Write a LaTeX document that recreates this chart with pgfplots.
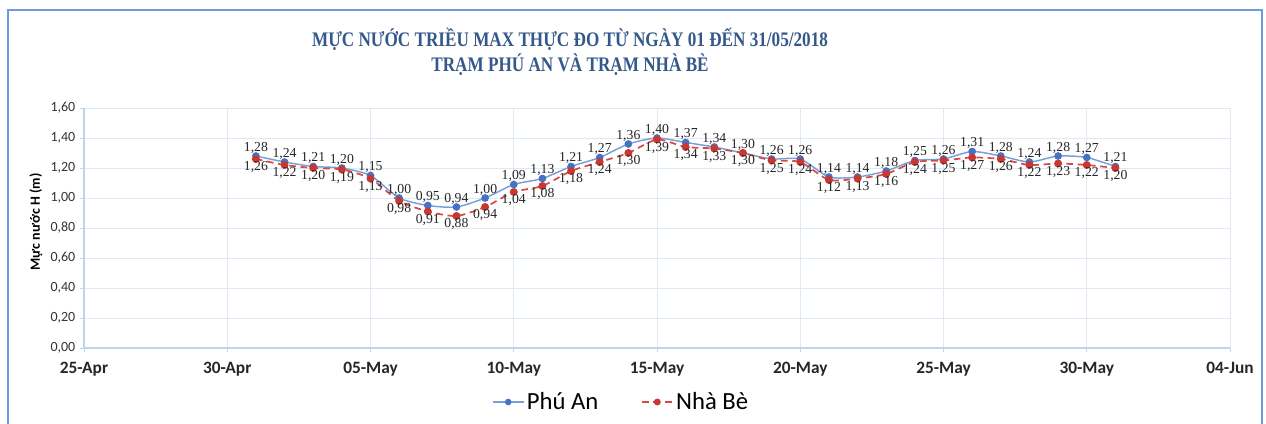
\documentclass[border=0pt]{standalone}
\usepackage{pgfplots}
\pgfplotsset{compat=1.18}
\usepackage{fontspec}
\setmainfont{Carlito}
\newfontfamily\serifx{Liberation Serif}
\definecolor{titleblue}{RGB}{52,88,138}
\definecolor{gridblue}{RGB}{222,233,246}
\definecolor{axisblue}{RGB}{190,212,238}
\definecolor{frameblue}{RGB}{110,155,215}
\definecolor{phuan}{RGB}{68,114,196}
\definecolor{phuanline}{RGB}{120,160,215}
\definecolor{nhabe}{RGB}{200,55,50}
\definecolor{nhabeline}{RGB}{215,75,70}
\begin{document}
\begin{tikzpicture}
\path[use as bounding box] (0pt,0pt) rectangle (949.5pt,318pt);
\draw[frameblue,line width=0.8pt] (6pt,-5pt) -- (6pt,310.5pt) -- (946.5pt,310.5pt) -- (946.5pt,-5pt);
\node[font=\serifx\bfseries\fontsize{15.5}{18}\selectfont,text=titleblue,anchor=base,transform shape,xscale=0.83] at (427.5pt,282.75pt) {MỰC NƯỚC TRIỀU MAX THỰC ĐO TỪ NGÀY 01 ĐẾN 31/05/2018};
\node[font=\serifx\bfseries\fontsize{15.5}{18}\selectfont,text=titleblue,anchor=base,transform shape,xscale=0.83] at (427.5pt,264pt) {TRẠM PHÚ AN VÀ TRẠM NHÀ BÈ};
\begin{axis}[
  at={(63pt,57pt)}, anchor=south west,
  scale only axis, width=859.5pt, height=180pt,
  xmin=0, xmax=40, ymin=0, ymax=1.6,
  xtick={0,5,...,40},
  xticklabels={25-Apr,30-Apr,05-May,10-May,15-May,20-May,25-May,30-May,04-Jun},
  ytick={0,0.2,...,1.61},
  yticklabel style={/pgf/number format/fixed,/pgf/number format/fixed zerofill,/pgf/number format/precision=2,/pgf/number format/use comma,/pgf/number format/assume math mode=true},
  yticklabel style={font=\fontsize{10.5}{12}\selectfont, text=black!80},
  xticklabel style={font=\bfseries\fontsize{13}{15}\selectfont, text=black!85, yshift=-4pt},
  axis lines*=left,
  axis line style={axisblue, line width=0.8pt},
  grid=major,
  major grid style={gridblue, line width=0.7pt},
  tick align=outside,
  major tick length=3pt,
  tick style={axisblue, line width=0.7pt},
  ylabel={Mực nước H (m)},
  ylabel style={font=\bfseries\fontsize{10.5}{12}\selectfont, at={(axis description cs:-0.042,0.525)}, anchor=center},
  legend style={at={(0.469,-0.225)}, anchor=center, legend columns=2, draw=none, fill=none,
    font=\fontsize{18.5}{20}\selectfont, /tikz/every even column/.append style={column sep=30pt}},
  legend image code/.code={\draw[mark repeat=2,mark phase=2,mark size=1.9pt,#1] plot coordinates {(0pt,0pt) (11.5pt,0pt) (23pt,0pt)};},
  nodes near coords={\pgfmathprintnumber[fixed,fixed zerofill,precision=2,use comma,assume math mode=true]{\pgfplotspointmeta}},
  every node near coord/.append style={font=\serifx\fontsize{10.3}{11}\selectfont, text=black!85, inner sep=1.5pt},
  clip=false,
]
\addplot[phuanline, line width=1.1pt, smooth, tension=0.4, mark=*, mark size=2.3pt,
  mark options={solid, fill=phuan, draw=phuan},
  every node near coord/.append style={anchor=south}]
coordinates {
(6,1.28) (7,1.24) (8,1.21) (9,1.20) (10,1.15) (11,1.00) (12,0.95) (13,0.94) (14,1.00) (15,1.09)
(16,1.13) (17,1.21) (18,1.27) (19,1.36) (20,1.40) (21,1.37) (22,1.34) (23,1.30) (24,1.26) (25,1.26)
(26,1.14) (27,1.14) (28,1.18) (29,1.25) (30,1.26) (31,1.31) (32,1.28) (33,1.24) (34,1.28) (35,1.27) (36,1.21)
};
\addlegendentry{Phú An}
\addplot[nhabeline, line width=1.3pt, dash pattern=on 5pt off 3.5pt, smooth, tension=0.4, mark=*, mark size=2.3pt,
  mark options={solid, fill=nhabe, draw=nhabe},
  every node near coord/.append style={anchor=north}]
coordinates {
(6,1.26) (7,1.22) (8,1.20) (9,1.19) (10,1.13) (11,0.98) (12,0.91) (13,0.88) (14,0.94) (15,1.04)
(16,1.08) (17,1.18) (18,1.24) (19,1.30) (20,1.39) (21,1.34) (22,1.33) (23,1.30) (24,1.25) (25,1.24)
(26,1.12) (27,1.13) (28,1.16) (29,1.24) (30,1.25) (31,1.27) (32,1.26) (33,1.22) (34,1.23) (35,1.22) (36,1.20)
};
\addlegendentry{Nhà Bè}
\end{axis}
\end{tikzpicture}
\end{document}
